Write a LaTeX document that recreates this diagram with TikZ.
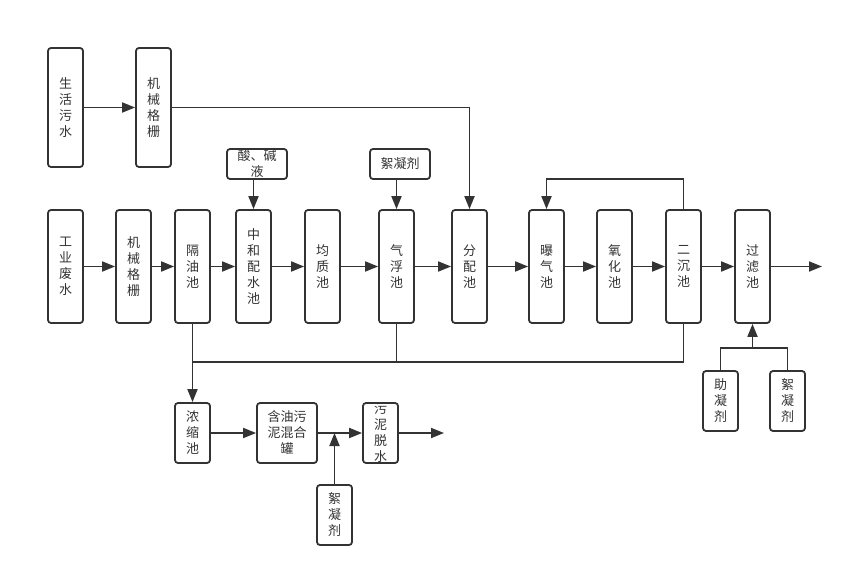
\documentclass[tikz,border=0pt]{standalone}
\usepackage{fontspec}
\setmainfont{Noto Sans CJK SC}
\usetikzlibrary{arrows.meta,calc}
\definecolor{ink}{HTML}{333333}
\tikzstyle{tank} = [rectangle, draw=ink, text=ink, line width=1.8pt, rounded corners=3pt, minimum width=35pt, minimum height=113pt, inner sep=0pt, align=center, font=\fontsize{13}{16}\selectfont]
\tikzstyle{small} = [tank, minimum height=60pt]
\tikzstyle{dose} = [tank, minimum width=60pt, minimum height=30pt]
\tikzstyle{arrow} = [draw=ink, line width=1.8pt, -{Triangle[length=13pt,width=10pt]}]
\tikzstyle{pipe} = [draw=ink, line width=1.8pt]

\begin{document}
\begin{tikzpicture}[x=1pt, y=-1pt]

    \useasboundingbox (0,0) rectangle (851,577);

    % domestic line
    \node[tank, minimum height=119pt] (domestic) at (65.5,107.5) {生\\活\\污\\水};
    \node[tank, minimum height=119pt] (screena) at (153.5,107.5) {机\\械\\格\\栅};

    % main line
    \node[tank] (industrial) at (65.5,266.5) {工\\业\\废\\水};
    \node[tank] (screenb) at (133.5,266.5) {机\\械\\格\\栅};
    \node[tank] (oilsep) at (192.5,266.5) {隔\\油\\池};
    \node[tank] (neutral) at (253.5,266.5) {中\\和\\配\\水\\池};
    \node[tank] (equal) at (322.5,266.5) {均\\质\\池};
    \node[tank] (flotation) at (396.5,266.5) {气\\浮\\池};
    \node[tank] (distrib) at (469.5,266.5) {分\\配\\池};
    \node[tank] (aeration) at (546.5,266.5) {曝\\气\\池};
    \node[tank] (oxidation) at (614.5,266.5) {氧\\化\\池};
    \node[tank] (settler) at (683.5,266.5) {二\\沉\\池};
    \node[tank] (filter) at (752.5,266.5) {过\\滤\\池};
    \coordinate (outwater) at (822,266.5);

    % dosing
    \node[dose] (acid) at (257,164) {酸、碱\\液};
    \node[dose] (flocculanta) at (400,164) {絮凝剂};
    \node[small] (aid) at (720.5,401) {助\\凝\\剂};
    \node[small] (flocculantc) at (787.5,401) {絮\\凝\\剂};
    \coordinate (join) at (752.5,348);

    % sludge line
    \coordinate (sludge) at (192.5,362);
    \node[small] (thicken) at (192.5,433) {浓\\缩\\池};
    \node[small, minimum width=60pt] (mixer) at (287,433) {含油污\\泥混合\\罐};
    \node[small] (dewater) at (380.5,433) {污\\泥\\脱\\水};
    \node[small] (flocculantb) at (334.5,515) {絮\\凝\\剂};
    \coordinate (outsludge) at (444,433);

    \draw [arrow] (domestic) -- (screena);
    \draw [arrow] (screena.east) -| (distrib.north);
    \draw [arrow] (industrial) -- (screenb);
    \draw [arrow] (screenb) -- (oilsep);
    \draw [arrow] (oilsep) -- (neutral);
    \draw [arrow] (neutral) -- (equal);
    \draw [arrow] (equal) -- (flotation);
    \draw [arrow] (flotation) -- (distrib);
    \draw [arrow] (distrib) -- (aeration);
    \draw [arrow] (aeration) -- (oxidation);
    \draw [arrow] (oxidation) -- (settler);
    \draw [arrow] (settler) -- (filter);
    \draw [arrow] (filter) -- (outwater);
    \draw [arrow] (settler.north) -- ++(0,-30) -| (aeration.north);
    \draw [arrow] (acid.south -| neutral) -- (neutral);
    \draw [arrow] (flocculanta.south -| flotation) -- (flotation);

    \draw [pipe] (aid.north) |- (join) -| (flocculantc.north);
    \draw [arrow] (join) -- (filter.south);

    \draw [pipe] (flotation.south) -- (flotation.south |- sludge);
    \draw [pipe] (settler.south) |- (sludge);
    \draw [arrow] (oilsep) -- (thicken);
    \draw [arrow] (thicken) -- (mixer);
    \draw [arrow] (mixer) -- (dewater);
    \draw [arrow] (flocculantb.north) -- (flocculantb.north |- mixer.east);
    \draw [arrow] (dewater) -- (outsludge);

\end{tikzpicture}
\end{document}
